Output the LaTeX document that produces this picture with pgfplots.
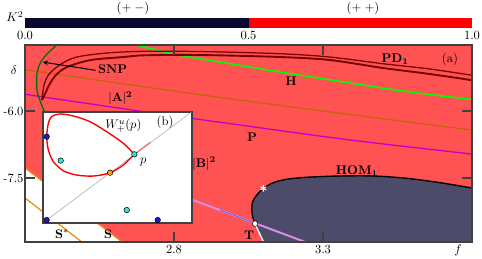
\documentclass[border=0pt]{standalone}
\usepackage{pgfplots}
\pgfplotsset{compat=1.18}
\definecolor{bgred}{RGB}{255,82,82}
\definecolor{homfill}{RGB}{76,76,106}
\definecolor{framegray}{RGB}{64,64,64}
\definecolor{cbnavy}{RGB}{8,8,48}
\definecolor{pdred}{RGB}{120,0,0}
\definecolor{snpgreen}{RGB}{0,110,0}
\definecolor{hgreen}{RGB}{0,255,0}
\definecolor{brownline}{RGB}{195,100,10}
\definecolor{magline}{RGB}{190,0,200}
\definecolor{violetline}{RGB}{215,140,230}
\definecolor{bluethin}{RGB}{100,90,210}
\definecolor{sorange}{RGB}{240,140,20}
\definecolor{dotblue}{RGB}{25,25,215}
\definecolor{dotcyan}{RGB}{64,224,208}
\definecolor{dotorange}{RGB}{255,160,0}
\begin{document}
\begin{tikzpicture}[every node/.style={inner sep=1pt}]
\path[use as bounding box] (0pt,0pt) rectangle (385.6pt,206.4pt);

% colour bar
\begin{axis}[at={(20pt,184pt)}, anchor=south west, scale only axis,
  width=357.6pt, height=8pt, xmin=0, xmax=1, ymin=0, ymax=1,
  xtick={0,0.5,1}, xticklabels={0.0,0.5,1.0}, ytick=\empty,
  major tick length=0pt, axis line style={draw=none},
  xticklabel style={yshift=-1.5pt}]
\addplot[fill=cbnavy, draw=none] coordinates {(0,0) (0.5,0) (0.5,1) (0,1)} --cycle;
\addplot[fill=red, draw=none] coordinates {(0.5,0) (1,0) (1,1) (0.5,1)} --cycle;
\end{axis}

% main axis
\begin{axis}[at={(20pt,12.8pt)}, anchor=south west, scale only axis,
  width=357.6pt, height=157.6pt,
  xmin=2.3, xmax=3.8, ymin=-8.933, ymax=-4.522,
  axis background/.style={fill=bgred}, axis on top,
  xtick={2.8,3.3}, xticklabels={2.8,3.3},
  ytick={-7.5,-6.0}, yticklabels={-7.5,-6.0},
  tick align=inside, major tick length=8pt,
  tick style={framegray, line width=0.9pt},
  axis line style={framegray, line width=1.2pt},
  xticklabel style={yshift=-1.5pt}]
% white region (S)
\addplot[fill=white, draw=none] coordinates {(2.28,-7.174) (2.63,-8.95) (2.28,-8.95)} --cycle;
\addplot[sorange, line width=1pt] coordinates {(2.28,-7.174) (2.63,-8.953)};
\addplot[sorange, line width=1pt] coordinates {(2.28,-7.845) (2.50,-8.98)};
% HOM region
\addplot[fill=homfill, draw=none] coordinates {(3.102,-8.95) (3.072,-8.530) (3.064,-8.366) (3.061,-8.178) (3.064,-8.031) (3.078,-7.881) (3.100,-7.731) (3.133,-7.605) (3.178,-7.529) (3.245,-7.484) (3.357,-7.455) (3.469,-7.455) (3.581,-7.507) (3.693,-7.605) (3.81,-7.735) (3.81,-8.95)} --cycle;
\addplot[black, line width=1.1pt, smooth] coordinates {(3.072,-8.530) (3.064,-8.366) (3.061,-8.178) (3.064,-8.031) (3.078,-7.881) (3.100,-7.731) (3.133,-7.605) (3.178,-7.529) (3.245,-7.484) (3.357,-7.455) (3.469,-7.455) (3.581,-7.507) (3.693,-7.605) (3.81,-7.735)};
\addplot[white, line width=1pt] coordinates {(3.072,-8.530) (3.102,-8.95)};
% violet line
\addplot[violetline, line width=1.6pt] coordinates {(2.70,-7.585) (3.072,-8.513) (3.25,-8.958)};
\addplot[bluethin, line width=0.6pt] coordinates {(2.954,-8.219) (3.072,-8.513)};
% magenta P
\addplot[magline, line width=1pt, smooth] coordinates {(2.29,-5.616) (2.666,-5.984) (3.021,-6.313) (3.391,-6.649) (3.81,-6.972)};
% brown
\addplot[brownline, line width=1pt, smooth] coordinates {(2.29,-5.066) (3.021,-5.757) (3.81,-6.434)};
% green H
\addplot[hgreen, line width=1.3pt, smooth] coordinates {(2.64,-4.46) (2.676,-4.522) (2.797,-4.724) (2.954,-4.903) (3.156,-5.127) (3.391,-5.373) (3.592,-5.575) (3.81,-5.75)};
% PD1
\addplot[pdred, line width=1pt, smooth] coordinates {(2.357,-5.754) (2.364,-5.418) (2.381,-5.172) (2.421,-4.948) (2.474,-4.791) (2.575,-4.701) (2.699,-4.663) (2.887,-4.668) (3.156,-4.717) (3.323,-4.791) (3.501,-4.941) (3.659,-5.060) (3.81,-5.21)};
\addplot[pdred, line width=1.5pt, smooth] coordinates {(2.357,-5.754) (2.367,-5.62) (2.381,-5.418) (2.404,-5.194) (2.441,-5.015) (2.521,-4.858) (2.632,-4.791) (2.699,-4.753) (2.887,-4.746) (3.156,-4.791) (3.323,-4.858) (3.501,-5.037) (3.659,-5.172) (3.81,-5.32)};
% SNP
\addplot[snpgreen, line width=1pt, smooth] coordinates {(2.412,-4.50) (2.403,-4.545) (2.375,-4.717) (2.353,-4.903) (2.341,-5.127) (2.339,-5.351) (2.341,-5.575) (2.350,-5.760) (2.361,-5.949) (2.369,-6.06) (2.391,-6.313)};
\draw[-stealth, line width=0.8pt] (axis cs:2.537,-5.089) -- (axis cs:2.360,-4.905);
% marks
\addplot[only marks, mark=*, mark size=2.2pt, mark options={fill=white, draw=black, line width=0.4pt}] coordinates {(3.072,-8.522)};
\addplot[only marks, mark=asterisk, mark size=2.6pt, mark options={white, line width=0.8pt}] coordinates {(3.100,-7.731)};
% labels
\node[font=\bfseries] at (axis cs:2.594,-5.071) {SNP};
\node at (axis cs:2.620,-5.710) {$|\mathbf{A}|^{\mathbf 2}$};
\node[font=\bfseries] at (axis cs:3.193,-5.328) {H};
\node at (axis cs:3.542,-4.836) {$\mathbf{PD}_{\mathbf 1}$};
\node at (axis cs:3.726,-4.836) {(a)};
\node[font=\bfseries] at (axis cs:3.062,-6.582) {P};
\node at (axis cs:2.901,-7.180) {$|\mathbf{B}|^{\mathbf 2}$};
\node at (axis cs:3.414,-7.343) {$\mathbf{HOM}_{\mathbf 1}$};
\node[font=\bfseries] at (axis cs:3.052,-8.776) {T};
\node at (axis cs:2.424,-8.754) {$\mathbf{S}^{*}$};
\node[font=\bfseries] at (axis cs:2.579,-8.754) {S};
\end{axis}

% inset
\begin{axis}[at={(34.4pt,28pt)}, anchor=south west, scale only axis,
  width=119.2pt, height=88.8pt, xmin=0, xmax=1, ymin=0, ymax=1,
  xtick=\empty, ytick=\empty, axis background/.style={fill=white},
  axis line style={framegray, line width=1.2pt}, clip=false]
\addplot[gray!60, line width=0.5pt] coordinates {(0.025,0.027) (0.995,0.997)};
\addplot[red!70, line width=1.3pt, opacity=0.6] coordinates {(0.613,0.619) (0.72,0.726)};
\addplot[red, line width=1.1pt, smooth] coordinates {(0.613,0.619) (0.539,0.718) (0.427,0.823) (0.315,0.913) (0.204,0.964) (0.114,0.982) (0.058,0.958) (0.036,0.898) (0.025,0.778) (0.036,0.658) (0.069,0.553) (0.136,0.471) (0.226,0.432) (0.338,0.423) (0.450,0.453) (0.539,0.523) (0.613,0.619)};
\addplot[only marks, mark=*, mark size=2.2pt, mark options={fill=dotblue, draw=black, line width=0.4pt}] coordinates {(0.025,0.778) (0.025,0.027) (0.770,0.027)};
\addplot[only marks, mark=*, mark size=2.2pt, mark options={fill=dotcyan, draw=black, line width=0.4pt}] coordinates {(0.119,0.562) (0.613,0.619) (0.562,0.117)};
\addplot[only marks, mark=*, mark size=2.2pt, mark options={fill=dotorange, draw=black, line width=0.4pt}] coordinates {(0.450,0.453)};
\node at (axis cs:0.539,0.872) {$W^u_+(p)$};
\node at (axis cs:0.819,0.907) {(b)};
\node at (axis cs:0.673,0.547) {$p$};
\end{axis}

\node at (12pt,193pt) {$K^2$};
\node at (106.4pt,200pt) {$(+\;-)$};
\node at (290.4pt,200pt) {$(+\;+)$};
\node at (11.2pt,150.4pt) {$\delta$};
\node at (366.4pt,6.4pt) {$f$};
\end{tikzpicture}
\end{document}
